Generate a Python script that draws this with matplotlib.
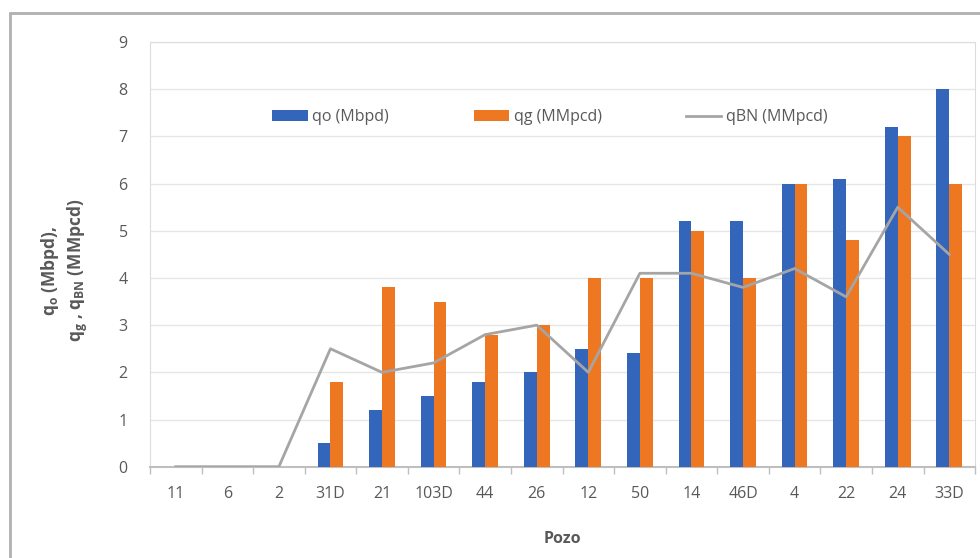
import numpy as np
import matplotlib.pyplot as plt
from matplotlib.patches import Rectangle

# datos por pozo
pozos = ['11', '6', '2', '31D', '21', '103D', '44', '26', '12', '50',
         '14', '46D', '4', '22', '24', '33D']
qo = [0, 0, 0, 0.5, 1.2, 1.5, 1.8, 2.0, 2.5, 2.4, 5.2, 5.2, 6.0, 6.1, 7.2, 8.0]
qg = [0, 0, 0, 1.8, 3.8, 3.5, 2.8, 3.0, 4.0, 4.0, 5.0, 4.0, 6.0, 4.8, 7.0, 6.0]
qbn = [0, 0, 0, 2.5, 2.0, 2.2, 2.8, 3.0, 2.0, 4.1, 4.1, 3.8, 4.2, 3.6, 5.5, 4.5]

plt.rcParams['font.family'] = ['Open Sans', 'DejaVu Sans']
TXT = '#595959'

fig = plt.figure(figsize=(9.8, 5.58), dpi=100)
ax = fig.add_axes([0.153, 0.1636, 0.842, 0.761])

x = np.arange(len(pozos))
w = 0.25
b1 = ax.bar(x - w / 2, qo, w, color='#3366bb', label='qo (Mbpd)', zorder=3)
b2 = ax.bar(x + w / 2, qg, w, color='#ee7722', label='qg (MMpcd)', zorder=3)
l1, = ax.plot(x, qbn, color='#a5a5a5', lw=2, label='qBN (MMpcd)', zorder=4)

ax.set_xlim(-0.5, len(pozos) - 0.5)
ax.set_ylim(0, 9)
ax.set_yticks(range(10))
ax.set_xticks(x)
ax.set_xticklabels(pozos)
ax.set_xticks(np.arange(-0.5, len(pozos)), minor=True)
ax.tick_params(axis='x', which='major', length=0, pad=14, labelsize=11.5, labelcolor=TXT)
ax.tick_params(axis='x', which='minor', length=5, color='#bfbfbf', width=1)
ax.tick_params(axis='y', length=0, pad=16, labelsize=11.5, labelcolor=TXT)
ax.grid(axis='y', color='#e6e6e6', lw=1, zorder=0)

for s in ['top', 'right', 'left']:
    ax.spines[s].set_color('#dcdcdc')
ax.spines['bottom'].set_color('#bfbfbf')
ax.spines['bottom'].set_linewidth(1.5)

ax.set_xlabel('Pozo', fontsize=11.5, fontweight='bold', color=TXT)
ax.xaxis.set_label_coords(0.5, -0.152)
fig.text(0.066, 0.515, 'q$_\\mathregular{o}$ (Mbpd),\nq$_\\mathregular{g}$ , q$_\\mathregular{BN}$ (MMpcd)',
         rotation=90, ha='center', va='center', fontsize=12.5, fontweight='bold',
         color=TXT, linespacing=1.3)

leg = ax.legend([b1, b2, l1], ['qo (Mbpd)', 'qg (MMpcd)', 'qBN (MMpcd)'],
                loc='center', bbox_to_anchor=(0.485, 0.823), ncol=3, frameon=False,
                fontsize=11.5, columnspacing=5.3, handlelength=2.2, handletextpad=0.3)
for t in leg.get_texts():
    t.set_color(TXT)

# marco exterior
fig.patches.append(Rectangle((10 / 980, -0.05), 1.1, 1 - 13 / 558 + 0.05,
                             transform=fig.transFigure, fill=False,
                             edgecolor='#b0b0b0', lw=2))

plt.savefig('out.png')
